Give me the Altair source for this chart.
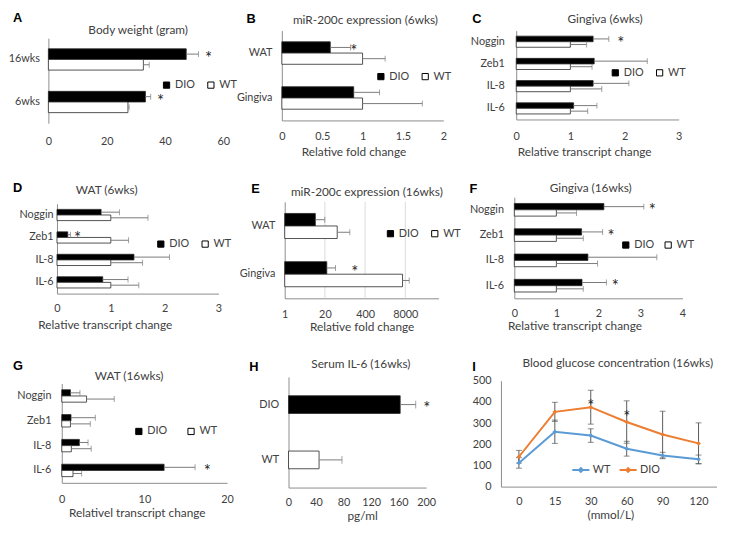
import altair as alt
import pandas as pd

FONT = "Lato"
LETTER_FONT = "Liberation Sans"
TXT = "#404040"
AXC = "#8c8c8c"
ERRC = "#7a7a7a"
BLUE = "#5B9BD5"
ORANGE = "#ED7D31"

# ---------------- data ----------------
GROUPS = ["DIO", "WT"]

A_cats = ["16wks", "6wks"]
A_dio = [47.3, 33.3]
A_dio_err = [4.2, 1.8]
A_wt = [32.6, 27.3]
A_wt_err = [2.0, 0.4]
A_star_cats = ["16wks", "6wks"]
A_star_x = [55.0, 38.5]

B_cats = ["WAT", "Gingiva"]
B_dio = [0.60, 0.89]
B_dio_err = [0.25, 0.32]
B_wt = [1.0, 1.0]
B_wt_err = [0.28, 0.74]
B_star_cats = ["WAT"]
B_star_x = [0.89]

GENES = ["Noggin", "Zeb1", "IL-8", "IL-6"]

C_dio = [1.42, 1.44, 1.42, 1.06]
C_dio_err = [0.29, 0.98, 0.66, 0.43]
C_wt = [1.0, 1.0, 1.0, 1.0]
C_wt_err = [0.30, 0.40, 0.58, 0.32]
C_star_cats = ["Noggin"]
C_star_x = [1.93]

D_dio = [0.82, 0.20, 1.43, 0.85]
D_dio_err = [0.34, 0.05, 0.66, 0.47]
D_wt = [1.0, 1.0, 1.0, 1.0]
D_wt_err = [0.69, 0.33, 0.59, 0.52]
D_star_cats = ["Zeb1"]
D_star_x = [0.38]

E_cats = ["WAT", "Gingiva"]
E_dio = [9.8, 23.0]
E_dio_err = [10.0, 21.0]
E_wt = [50.0, 6500.0]
E_wt_err = [78.0, 4200.0]
E_star_cats = ["Gingiva"]
E_star_x = [184.0]
E_grid = [20, 400, 8000]

F_dio = [2.13, 1.60, 1.75, 1.61]
F_dio_err = [0.95, 0.50, 1.64, 0.58]
F_wt = [1.0, 1.0, 1.0, 1.0]
F_wt_err = [0.48, 0.64, 0.98, 0.64]
F_star_cats = ["Noggin", "Zeb1", "IL-6"]
F_star_x = [3.28, 2.30, 2.40]

G_dio = [1.05, 1.12, 2.13, 12.38]
G_dio_err = [1.15, 2.94, 1.05, 3.75]
G_wt = [3.0, 1.05, 1.16, 1.36]
G_wt_err = [3.35, 2.4, 2.4, 1.04]
G_star_cats = ["IL-6"]
G_star_x = [17.6]

H_cats = ["DIO", "WT"]
H_vals = [162.3, 44.4]
H_errs = [22.6, 33.3]
H_star_cats = ["DIO"]
H_star_x = [201.0]

I_times = ["0", "15", "30", "60", "90", "120"]
I_series = ["WT", "DIO"]
I_wt = [112, 259, 241, 179, 147, 129]
I_wt_err = [25, 55, 32, 35, 15, 20]
I_dio = [141, 353, 375, 305, 246, 204]
I_dio_err = [30, 45, 80, 100, 110, 97]
I_star_times = ["30", "60"]
I_star_y = [405, 352]

# ---------------- layout helpers ----------------
SX, SY = 0.97, 0.96


def PX(r):
    return 7 + SX * r


def PY(r):
    return 5.2 + SY * r


OX, OY = PX(40), PY(22)
CW = PX(284) - PX(40)
RH = PY(200) - PY(22)


def cell_origin(c, r):
    return OX + c * CW, OY + r * RH


def cell_size(c, r):
    cx, cy = cell_origin(c, r)
    w = CW if c < 2 else PX(739) - cx
    h = RH if r < 2 else PY(506) - cy
    return w, h


def text_layer(txt, x, y, size, color=TXT, font=FONT, weight="normal",
               align="center", baseline="middle"):
    return alt.Chart(pd.DataFrame({"label": [txt]})).mark_text(
        font=font, fontSize=size, fontWeight=weight, color=color,
        align=align, baseline=baseline
    ).encode(text="label:N", x=alt.value(x), y=alt.value(y))


def decor(cell, title, title_xy, letter, letter_xy):
    cx, cy = cell_origin(*cell)
    t = text_layer(title, PX(title_xy[0]) - cx, PY(title_xy[1]) - cy, 12)
    l = text_layer(letter, PX(letter_xy[0]) - cx, PY(letter_xy[1]) - cy, 13,
                   color="#000000", font=LETTER_FONT, weight="bold",
                   align="left", baseline="top")
    return [t, l]


def x_axis(cell, rect, ticks, xtitle, xtitle_xy, lab_pad, domain=True):
    cx, cy = cell_origin(*cell)
    _, h = cell_size(*cell)
    yb = PY(rect[3]) - cy
    kw = dict(values=ticks, format="~r", ticks=False, domain=domain, domainColor=AXC,
              grid=False, labelFont=FONT, labelFontSize=11,
              labelColor=TXT, labelPadding=lab_pad, labelFlush=False,
              labelOverlap=False, offset=yb - h, labelAngle=0)
    if xtitle:
        kw.update(title=xtitle, titleX=PX(xtitle_xy[0]) - cx,
                  titleY=PY(xtitle_xy[1]) - PY(rect[3]), titleBaseline="middle",
                  titleAlign="center", titleFont=FONT, titleFontSize=12,
                  titleFontWeight="normal", titleColor=TXT, titlePadding=0)
    else:
        kw.update(title=None)
    return alt.Axis(**kw)


def y_axis(cell, rect, lab_pad, values=None):
    cx, cy = cell_origin(*cell)
    xl = PX(rect[0]) - cx
    kw = dict(title=None, ticks=False, domainColor=AXC, labelFont=FONT, labelFontSize=11,
              labelColor=TXT, labelPadding=lab_pad, offset=-xl, grid=False,
              labelFlush=False)
    if values is not None:
        kw.update(values=values)
    return alt.Axis(**kw)


def bar_panel(cell, rect, cats, dio, dio_err, wt, wt_err, star_cats, star_x,
              xdom, xticks, title, title_xy, letter, letter_xy, legend_xy,
              xtitle=None, xtitle_xy=None, xlab_pad=10, ylab_pad=10,
              pin=0.5, pout=0.25, log=False, grid_vals=None, xdomain_line=True,
              legend_gap=10, extra=None):
    cx, cy = cell_origin(*cell)
    w, h = cell_size(*cell)
    L, T, R, B = rect
    xl, xr = PX(L) - cx, PX(R) - cx
    yt, yb = PY(T) - cy, PY(B) - cy
    n = len(cats)
    base = 1 if log else 0
    df = pd.DataFrame({
        "cat": cats + cats,
        "grp": ["DIO"] * n + ["WT"] * n,
        "val": dio + wt,
        "end": [v + e for v, e in zip(dio, dio_err)] + [v + e for v, e in zip(wt, wt_err)],
        "base": [base] * (2 * n),
    })
    stars = pd.DataFrame({"cat": star_cats, "grp": ["DIO"] * len(star_cats),
                          "sx": star_x, "s": ["*"] * len(star_cats)})
    if log:
        xscale = alt.Scale(type="log", base=20, domain=xdom, range=[xl, xr], nice=False)
    else:
        xscale = alt.Scale(domain=xdom, range=[xl, xr], nice=False, zero=True)
    xax = x_axis(cell, rect, xticks, xtitle, xtitle_xy, xlab_pad, domain=xdomain_line)

    def X(f):
        return alt.X(f, type="quantitative", scale=xscale, axis=xax)

    Y = alt.Y("cat:N", scale=alt.Scale(domain=cats, range=[yt, yb], paddingInner=pin,
                                        paddingOuter=pout),
              axis=y_axis(cell, rect, ylab_pad))
    YO = alt.YOffset("grp:N", scale=alt.Scale(domain=GROUPS, paddingInner=0, paddingOuter=0))
    legend = alt.Legend(orient="none", legendX=PX(legend_xy[0]) - cx,
                        legendY=PY(legend_xy[1]) - cy - 6, direction="horizontal",
                        title=None, symbolType="square", symbolSize=40,
                        symbolStrokeColor="#000000", symbolStrokeWidth=1,
                        labelFont=FONT, labelFontSize=11, labelColor=TXT,
                        columnPadding=legend_gap, labelOffset=3, padding=0)
    layers = []
    if grid_vals:
        gdf = pd.DataFrame({"g": grid_vals})
        layers.append(alt.Chart(gdf).mark_rule(color="#d9d9d9", strokeWidth=1).encode(
            x=X("g"), y=alt.value(yt), y2=alt.value(yb)))
    bars = alt.Chart(df).mark_bar(stroke="#262626", strokeWidth=0.8).encode(
        x=X("val"), x2=alt.X2("base"), y=Y, yOffset=YO,
        color=alt.Color("grp:N", scale=alt.Scale(domain=GROUPS, range=["#000000", "#ffffff"]),
                        legend=legend))
    errs = alt.Chart(df).mark_rule(color=ERRC, strokeWidth=1).encode(
        x=X("val"), x2=alt.X2("end"), y=Y, yOffset=YO)
    caps = alt.Chart(df).mark_tick(color=ERRC, thickness=1, size=6).encode(
        x=X("end"), y=Y, yOffset=YO)
    st = alt.Chart(stars).mark_text(font=FONT, fontSize=17, color="#262626", dy=5).encode(
        x=X("sx"), y=Y, yOffset=YO, text="s:N")
    layers += [bars, errs, caps, st] + decor(cell, title, title_xy, letter, letter_xy)
    if extra:
        layers += extra
    return alt.layer(*layers).properties(width=w, height=h)


# anchor that pins the top-left of the whole figure
anchor = alt.Chart(pd.DataFrame({"a": [0]})).mark_point(opacity=0, size=1).encode(
    x=alt.value(8 - OX), y=alt.value(8 - OY))

pA = bar_panel((0, 0), (40, 30, 223, 120), A_cats, A_dio, A_dio_err, A_wt, A_wt_err,
               A_star_cats, A_star_x, [0, 60], [0, 20, 40, 60],
               "Body weight (gram)", (134, 21), "A", (3, 3), (158, 80),
               xlab_pad=13, ylab_pad=9, xdomain_line=False, extra=[anchor])
pB = bar_panel((1, 0), (284, 22, 453, 117), B_cats, B_dio, B_dio_err, B_wt, B_wt_err,
               B_star_cats, B_star_x, [0, 2], [0, 0.5, 1, 1.5, 2],
               "miR-200c expression  (6wks)", (371.5, 11), "B", (247, 4), (382, 71),
               xtitle="Relative fold change", xtitle_xy=(359, 150), xlab_pad=10, ylab_pad=10)
pC = bar_panel((2, 0), (529, 22, 699, 116), GENES, C_dio, C_dio_err, C_wt, C_wt_err,
               C_star_cats, C_star_x, [0, 3], [0, 1, 2, 3],
               "Gingiva (6wks)", (622, 10), "C", (483, 4), (627, 67),
               xtitle="Relative transcript change", xtitle_xy=(600, 150),
               xlab_pad=11, ylab_pad=12)
pD = bar_panel((0, 1), (49, 205, 218, 300), GENES, D_dio, D_dio_err, D_wt, D_wt_err,
               D_star_cats, D_star_x, [0, 3], [0, 1, 2, 3],
               "WAT (6wks)", (101, 190), "D", (3, 182), (152, 248),
               xtitle="Relative transcript change", xtitle_xy=(99, 333),
               xlab_pad=9, ylab_pad=4)
pE = bar_panel((1, 1), (287, 203, 448, 305), E_cats, E_dio, E_dio_err, E_wt, E_wt_err,
               E_star_cats, E_star_x, [1, 95000], [1, 20, 400, 8000],
               "miR-200c expression  (16wks)", (373, 193), "E", (252, 183), (392, 237),
               xtitle="Relative fold change", xtitle_xy=(367.5, 335),
               xlab_pad=10, ylab_pad=10, log=True, grid_vals=E_grid, pin=0.48, pout=0.24)
pF = bar_panel((2, 1), (527, 198, 703, 305), GENES, F_dio, F_dio_err, F_wt, F_wt_err,
               F_star_cats, F_star_x, [0, 4], [0, 1, 2, 3, 4],
               "Gingiva (16wks)", (607, 188), "F", (480, 183), (638, 249),
               xtitle="Relative transcript change", xtitle_xy=(590, 334),
               xlab_pad=9, ylab_pad=11, legend_gap=8)
pG = bar_panel((0, 2), (54, 395, 227, 500), GENES, G_dio, G_dio_err, G_wt, G_wt_err,
               G_star_cats, G_star_x, [0, 20], [0, 10, 20],
               "WAT (16wks)", (124.5, 387), "G", (3, 370), (129, 446),
               xtitle="Relativel transcript change", xtitle_xy=(132.5, 531),
               xlab_pad=11, ylab_pad=11, legend_gap=18)


def h_panel():
    cell = (1, 2)
    rect = (291, 388, 435, 505)
    cx, cy = cell_origin(*cell)
    w, h = cell_size(*cell)
    xl, xr = PX(rect[0]) - cx, PX(rect[2]) - cx
    yt, yb = PY(rect[1]) - cy, PY(rect[3]) - cy
    df = pd.DataFrame({"cat": H_cats, "val": H_vals,
                       "end": [v + e for v, e in zip(H_vals, H_errs)]})
    stars = pd.DataFrame({"cat": H_star_cats, "sx": H_star_x, "s": ["*"] * len(H_star_cats)})
    xscale = alt.Scale(domain=[0, 200], range=[xl, xr], nice=False, zero=True)
    xax = x_axis(cell, rect, [0, 40, 80, 120, 160, 200], "pg/ml", (368, 535), 9)

    def X(f):
        return alt.X(f, type="quantitative", scale=xscale, axis=xax)

    Y = alt.Y("cat:N", scale=alt.Scale(domain=H_cats, range=[yt, yb], paddingInner=0.68,
                                        paddingOuter=0.34),
              axis=y_axis(cell, rect, 10))
    bars = alt.Chart(df).mark_bar(stroke="#262626", strokeWidth=0.8).encode(
        x=X("val"), y=Y,
        color=alt.Color("cat:N", scale=alt.Scale(domain=H_cats, range=["#000000", "#ffffff"]),
                        legend=None))
    errs = alt.Chart(df).mark_rule(color=ERRC, strokeWidth=1).encode(
        x=X("val"), x2=alt.X2("end"), y=Y)
    caps = alt.Chart(df).mark_tick(color=ERRC, thickness=1, size=8).encode(x=X("end"), y=Y)
    st = alt.Chart(stars).mark_text(font=FONT, fontSize=17, color="#262626", dy=5).encode(
        x=X("sx"), y=Y, text="s:N")
    layers = [bars, errs, caps, st] + decor(cell, "Serum IL-6 (16wks)", (366.7, 374),
                                            "H", (250, 371))
    return alt.layer(*layers).properties(width=w, height=h)


def i_panel():
    cell = (2, 2)
    rect = (513, 392, 738.6, 504)
    cx, cy = cell_origin(*cell)
    w, h = cell_size(*cell)
    xl, xr = PX(rect[0]) - cx, PX(rect[2]) - cx
    yt, yb = PY(rect[1]) - cy, PY(rect[3]) - cy
    n = len(I_times)
    df = pd.DataFrame({"t": I_times * 2, "g": ["WT"] * n + ["DIO"] * n,
                       "v": I_wt + I_dio, "e": I_wt_err + I_dio_err})
    df["lo"] = df["v"] - df["e"]
    df["hi"] = df["v"] + df["e"]
    caps_df = pd.DataFrame({"t": list(df["t"]) * 2, "c": list(df["lo"]) + list(df["hi"])})
    stars = pd.DataFrame({"t": I_star_times, "v": I_star_y, "s": ["*"] * len(I_star_times)})
    xax = alt.Axis(ticks=False, domainColor=AXC, labelFont=FONT, labelFontSize=11,
                   labelColor=TXT, labelPadding=9, labelAngle=0, offset=yb - h,
                   title="(mmol/L)", titleX=PX(627.5) - cx, titleY=PY(534) - PY(rect[3]),
                   titleBaseline="middle", titleAlign="center", titleFont=FONT,
                   titleFontSize=12, titleFontWeight="normal", titleColor=TXT)
    X = alt.X("t:O", scale=alt.Scale(type="point", domain=I_times, range=[xl, xr], padding=0.5),
              axis=xax)

    def Yq(f):
        return alt.Y(f, type="quantitative",
                     scale=alt.Scale(domain=[0, 500], range=[yb, yt], nice=False),
                     axis=y_axis(cell, rect, 10, values=[0, 100, 200, 300, 400, 500]))

    legend = alt.Legend(orient="none", legendX=PX(576) - cx + 10, legendY=PY(482.3) - cy - 6,
                        direction="horizontal", title=None,
                        symbolType="M-1,0L1,0M-0.22,0L0,-0.22L0.22,0L0,0.22Z",
                        symbolSize=300, symbolStrokeWidth=2, labelFont=FONT,
                        labelFontSize=11, labelColor=TXT, columnPadding=5,
                        labelOffset=2, padding=0)
    color = alt.Color("g:N", scale=alt.Scale(domain=I_series, range=[BLUE, ORANGE]),
                      legend=legend)
    errs = alt.Chart(df).mark_rule(color="#595959", strokeWidth=1).encode(
        x=X, y=Yq("lo"), y2=alt.Y2("hi"))
    caps = alt.Chart(caps_df).mark_tick(color="#595959", thickness=1, size=6).encode(
        x=X, y=Yq("c"))
    line = alt.Chart(df).mark_line(strokeWidth=2).encode(x=X, y=Yq("v"), color=color)
    pts = alt.Chart(df).mark_point(filled=True, size=22, shape="diamond", opacity=1).encode(
        x=X, y=Yq("v"), color=color)
    st = alt.Chart(stars).mark_text(font=FONT, fontSize=17, color="#262626", dy=6).encode(
        x=X, y=Yq("v"), text="s:N")
    layers = [errs, caps, line, pts, st] + decor(
        cell, "Blood glucose concentration (16wks)", (635.3, 373), "I", (483, 371))
    return alt.layer(*layers).properties(width=w, height=h)


pH = h_panel()
pI = i_panel()

chart = alt.concat(pA, pB, pC, pD, pE, pF, pG, pH, pI, columns=3, spacing=0,
                   bounds="flush", align="each").resolve_scale(
    color="independent", x="independent", y="independent", yOffset="independent"
).resolve_legend(color="independent").configure_view(stroke=None).properties(
    padding=0, background="white")

chart.save("out.html", embed_options={"renderer": "svg", "actions": False})
